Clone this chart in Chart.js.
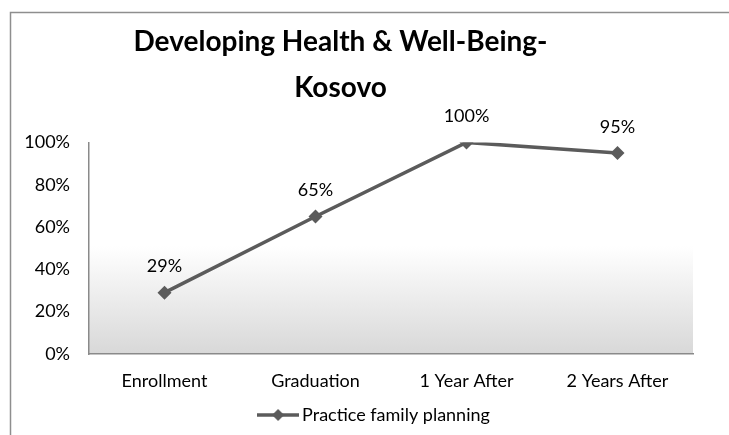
<!DOCTYPE html>
<html>
<head>
<meta charset="utf-8">
<script src="https://cdn.jsdelivr.net/npm/chart.js@4/dist/chart.umd.min.js"></script>
<style>
html,body{margin:0;padding:0;background:#fff;}
#wrap{position:relative;width:729px;height:435px;}
</style>
</head>
<body>
<div id="wrap"><canvas id="c" width="729" height="435"></canvas></div>
<script>
const categories = ["Enrollment", "Graduation", "1 Year After", "2 Years After"];
const seriesName = "Practice family planning";
const values = [29, 65, 100, 95];
const yTicks = [0, 20, 40, 60, 80, 100];
const titleLines = ["Developing Health & Well-Being-", "Kosovo"];

const FONT = "Lato, 'Liberation Sans', sans-serif";
const LINE = "#5b5b5b";
const FS = 18;

// legend sample: line with diamond
const sample = document.createElement('canvas');
sample.width = 42; sample.height = 14;
(function(){
  const g = sample.getContext('2d');
  g.strokeStyle = LINE; g.lineWidth = 3.5;
  g.beginPath(); g.moveTo(0,7); g.lineTo(42,7); g.stroke();
  g.fillStyle = LINE;
  g.beginPath(); g.moveTo(21,1); g.lineTo(27,7); g.lineTo(21,13); g.lineTo(15,7); g.closePath(); g.fill();
})();

const bgPlugin = {
  id: 'bg',
  afterLayout(chart) {
    if (chart.legend) { chart.legend.left += 30; chart.legend.right += 30; }
    if (chart.titleBlock) { chart.titleBlock.left -= 6; chart.titleBlock.right -= 6; }
  },
  beforeDraw(chart) {
    const ctx = chart.ctx;
    ctx.save();
    ctx.fillStyle = '#fff';
    ctx.fillRect(0,0,chart.width,chart.height);
    ctx.strokeStyle = '#8e8e8e'; ctx.lineWidth = 1.5;
    ctx.beginPath(); ctx.moveTo(10.5, chart.height); ctx.lineTo(10.5, 12.5); ctx.lineTo(chart.width, 12.5); ctx.stroke();
    const a = chart.chartArea;
    const g = ctx.createLinearGradient(0, a.top, 0, a.bottom);
    g.addColorStop(0, '#ffffff');
    g.addColorStop(0.49, '#ffffff');
    g.addColorStop(1, '#d8d8d8');
    ctx.fillStyle = g;
    ctx.fillRect(a.left, a.top, a.right - a.left, a.bottom - a.top);
    ctx.restore();
  }
};

const labelPlugin = {
  id: 'dl',
  afterDatasetsDraw(chart) {
    const ctx = chart.ctx;
    const meta = chart.getDatasetMeta(0);
    ctx.save();
    ctx.font = FS + "px " + FONT;
    ctx.fillStyle = '#000';
    ctx.textAlign = 'center';
    ctx.textBaseline = 'middle';
    meta.data.forEach((pt, i) => {
      ctx.fillText(values[i] + '%', pt.x, pt.y - 26);
    });
    ctx.restore();
  }
};

new Chart(document.getElementById('c'), {
  type: 'line',
  data: {
    labels: categories,
    datasets: [{
      label: seriesName,
      data: values,
      borderColor: LINE,
      backgroundColor: LINE,
      borderWidth: 3.5,
      pointStyle: 'rectRot',
      pointRadius: 7,
      pointBorderWidth: 0,
      pointBackgroundColor: LINE,
      tension: 0
    }]
  },
  options: {
    responsive: false,
    animation: false,
    events: [],
    layout: { padding: { left: 0, right: 36, top: 0, bottom: 1 } },
    plugins: {
      title: {
        display: true,
        text: titleLines,
        color: '#000',
        font: { family: FONT, size: 28, weight: 'bold', lineHeight: 1.65 },
        padding: { top: 19, bottom: 31 }
      },
      legend: {
        display: true,
        position: 'bottom',
        labels: {
          usePointStyle: true,
          pointStyle: sample,
          pointStyleWidth: 30,
          boxHeight: 14,
          color: '#000',
          padding: 12,
          font: { family: FONT, size: FS },
          generateLabels(chart) {
            return [{ text: seriesName, pointStyle: sample, fillStyle: LINE, strokeStyle: LINE, lineWidth: 0, datasetIndex: 0 }];
          }
        }
      },
      tooltip: { enabled: false }
    },
    scales: {
      x: {
        offset: true,
        afterFit(s) { s.height = 40; },
        grid: { display: false, drawTicks: false },
        border: { display: true, color: '#8a8a8a', width: 1.5 },
        ticks: { color: '#000', font: { family: FONT, size: FS }, padding: 16, maxRotation: 0 }
      },
      y: {
        min: 0, max: 100,
        afterBuildTicks(s) { s.ticks = yTicks.map(v => ({ value: v })); },
        afterFit(s) { s.width = 89; },
        grid: { display: false, drawTicks: false },
        border: { display: true, color: '#8a8a8a', width: 1.5 },
        ticks: { color: '#000', font: { family: FONT, size: FS }, padding: 19, callback: v => v + '%' }
      }
    }
  },
  plugins: [bgPlugin, labelPlugin]
});
</script>
</body>
</html>
